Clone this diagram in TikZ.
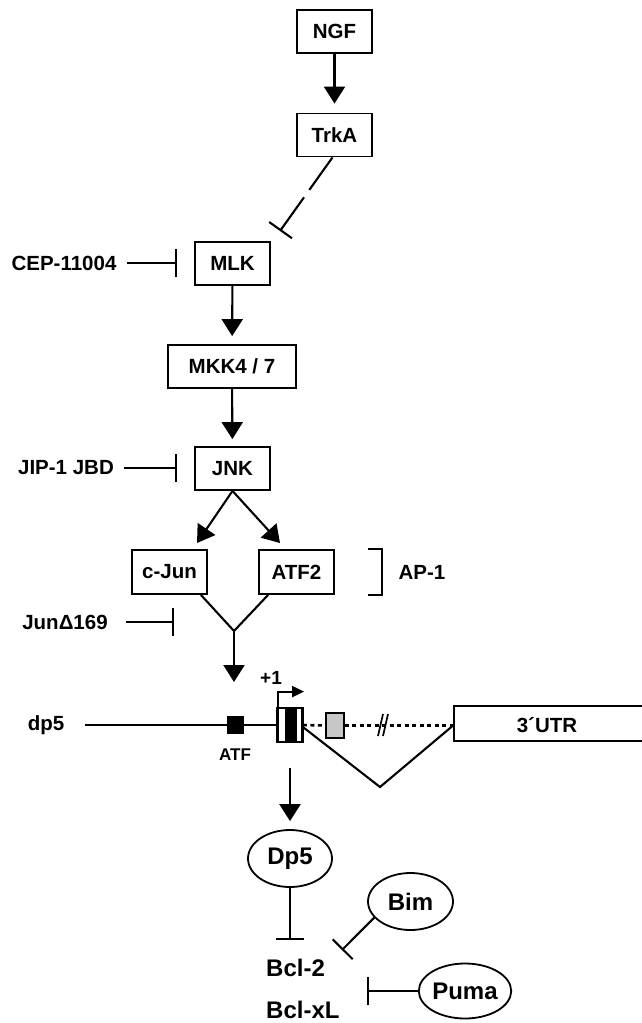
\documentclass[tikz,border=0pt]{standalone}
\usepackage{fontspec}
\setmainfont{Liberation Sans}
\usetikzlibrary{arrows.meta,shapes.geometric,calc}
\begin{document}
\begin{tikzpicture}[x=1pt,y=-1pt,
 lbl/.style={font=\bfseries\fontsize{20.5}{24}\selectfont, inner sep=0pt},
 small/.style={font=\bfseries\fontsize{17}{20}\selectfont, inner sep=0pt},
 big/.style={font=\bfseries\fontsize{24}{28}\selectfont, inner sep=0pt},
 box/.style={draw, line width=1.8pt, minimum height=43pt, minimum width=75pt, inner sep=0pt, font=\bfseries\fontsize{20.5}{24}\selectfont},
 oval/.style={ellipse, draw, line width=1.8pt, minimum width=84pt, minimum height=57pt, inner sep=0pt, font=\bfseries\fontsize{24}{28}\selectfont},
 ln/.style={line width=2.1pt},
 arr/.style={line width=2.1pt, -{Triangle[length=17pt,width=21pt]}},
 inh/.style={line width=2.1pt, -{Bar[width=28pt, line width=2.1pt]}},
 dotln/.style={line width=2.6pt, dash pattern=on 4pt off 3.5pt}]
\useasboundingbox (0,0) rectangle (641,1023);

% pathway boxes
\node[box] (ngf) at (334.5,31.5) {NGF};
\node[box] (trka) at (334.5,135) {TrkA};
\node[box] (mlk) at (232.5,263.5) {MLK};
\node[box, minimum width=128pt] (mkk) at (232,366.5) {MKK4 / 7};
\node[box] (jnk) at (232.5,468.5) {JNK};
\node[box, minimum height=44pt] (cjun) at (169.5,572) {c-Jun};
\node[box, minimum height=44pt] (atf2) at (296.5,572) {ATF2};

\draw[arr, shorten >=9pt] (ngf) -- (trka);
\coordinate (mlkbar) at (280,231);
\draw[inh, dash pattern=on 40pt off 9pt on 200pt] ($(trka.south)+(-2,0)$) -- (mlkbar);
\draw[arr, shorten >=8pt] (mlk) -- (mkk);
\draw[arr, shorten >=7pt] (mkk) -- (jnk);
\coordinate (t1) at (197,543);
\coordinate (t2) at (280,543);
\draw[arr] (jnk.south) -- (t1);
\draw[arr] (jnk.south) -- (t2);

% inhibitors
\node[lbl] (cep) at (64,263) {CEP-11004};
\coordinate (cepbar) at (177,263);
\draw[inh, shorten <=10pt] (cep) -- (cepbar);
\node[lbl] (jip) at (66,468) {JIP-1 JBD};
\coordinate (jipbar) at (177,468);
\draw[inh, shorten <=10pt] (jip) -- (jipbar);
\node[lbl] (jun) at (65,622) {JunΔ169};
\coordinate (junbar) at (174,622);
\draw[inh, shorten <=18pt] (jun) -- (junbar);

% AP-1 bracket
\draw[line width=1.8pt] ($(atf2.north east)+(33,0)$) -- ($(atf2.north east)+(47,0)$) -- ($(atf2.south east)+(47,0)$) -- ($(atf2.south east)+(33,0)$);
\node[lbl] (ap1) at (422,572) {AP-1};

% convergence
\coordinate (vj) at (234,631);
\draw[ln] ($(cjun.south east)+(-7,0)$) -- (vj) -- ($(atf2.south west)+(10,0)$);
\coordinate (t3) at (234,682);
\draw[arr] (vj) -- (t3);

% gene
\node[lbl] (dp5) at (46,725) {dp5};
\node[draw, fill=white, line width=1.8pt, minimum width=24pt, minimum height=33pt, inner sep=0pt] (exon) at (290,725) {};
\fill ($(exon.north)+(-5,0)$) rectangle ($(exon.south)+(7,0)$);
\draw[line width=1.8pt] (exon.north west) rectangle (exon.south east);
\node[fill=black, minimum width=17pt, minimum height=18pt, inner sep=0pt] (atfsq) at (235.5,725) {};
\draw[ln, shorten <=21pt] (dp5) -- (exon.west);
\node[small] (atflbl) at (235,755) {ATF};
\draw[line width=2pt, -{Triangle[length=12pt,width=11pt]}] ($(exon.north west)+(1,0)$) -- ++(0,-16) -- ++(26,0);
\node[font=\bfseries\fontsize{19}{22}\selectfont, inner sep=0pt] (plus1) at (271,678) {+1};

\node[draw, fill=black!22, line width=1.8pt, minimum width=18pt, minimum height=25pt, inner sep=0pt] (gray) at (335,725.5) {};
\node[draw, line width=1.8pt, minimum width=206pt, minimum height=35pt, inner sep=0pt] (utr) at (557,723.5) {};
\node[lbl] (utrlbl) at (547,725) {3´UTR};
\draw[dotln] (exon.east) -- (gray.west);
\draw[dotln] (gray.east) -- (utr.west |- gray.east);
\draw[line width=1.7pt] (378,736) -- (383,714);
\draw[line width=1.7pt] (383,736) -- (388,714);
\coordinate (vb) at (380,787);
\draw[ln] ($(exon.east)+(0,2)$) -- (vb) -- (utr.west |- gray.east);

% products
\coordinate (gd) at (290,768);
\node[oval] (dp5p) at (290,858.5) {Dp5};
\draw[arr, shorten >=8pt] (gd) -- (dp5p.north);
\coordinate (b1) at (290,940);
\draw[inh] (dp5p.south) -- (b1);
\node[big, anchor=west] (bcl2) at (266,968) {Bcl-2};
\node[big, anchor=west] (bclxl) at (266,1010) {Bcl-xL};
\node[oval, minimum width=85pt] (bim) at (410.5,901.5) {Bim};
\coordinate (b2) at (342,950);
\draw[inh] (bim.204) -- (b2);
\node[oval, minimum height=55pt] (puma) at (465,991) {Puma};
\coordinate (b3) at (367,991);
\draw[inh] (puma.west) -- (b3);
\end{tikzpicture}
\end{document}
